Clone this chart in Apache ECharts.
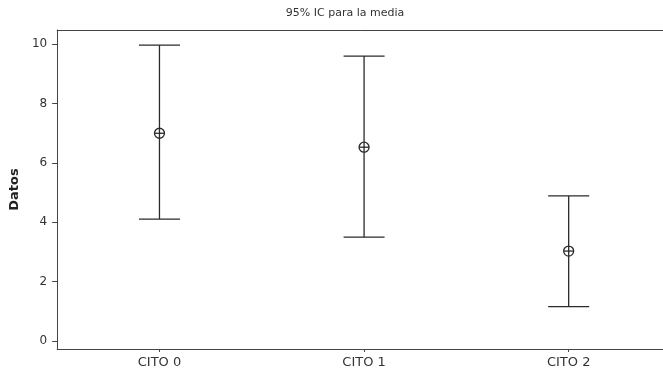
<!DOCTYPE html>
<html>
<head>
<meta charset="utf-8">
<script src="https://cdn.jsdelivr.net/npm/echarts@6/dist/echarts.min.js"></script>
<style>html,body{margin:0;padding:0;background:#fff}#c{width:663px;height:374px}</style>
</head>
<body>
<div id="c"></div>
<script>
var categories = ['CITO 0', 'CITO 1', 'CITO 2'];
var means = [7.0, 6.53, 3.03];
var lower = [4.11, 3.5, 1.16];
var upper = [9.97, 9.6, 4.89];
var yTicks = [0, 2, 4, 6, 8, 10];
var titleText = '95% IC para la media';
var yName = 'Datos';

var chart = echarts.init(document.getElementById('c'));
var catIdx = categories.map(function (c, i) { return i; });
var data = categories.map(function (c, i) { return [i, lower[i], upper[i], means[i]]; });
var ink = '#2a2a2a';
var axisCol = '#444';
chart.setOption({
  animation: false,
  title: {
    text: titleText, left: 340, top: 3, textAlign: 'center',
    textStyle: { fontFamily: 'DejaVu Sans', fontSize: 11, fontWeight: 'normal', color: '#333' }
  },
  grid: { left: 56, top: 30, right: 0, bottom: 25, show: false },
  xAxis: [{
    type: 'value', min: -0.5, max: 2.461, position: 'bottom',
    axisLine: { show: true, onZero: false, lineStyle: { color: axisCol, width: 1 } },
    axisTick: { show: true, length: 3, customValues: catIdx, lineStyle: { color: axisCol } },
    axisLabel: {
      fontFamily: 'DejaVu Sans', fontSize: 13, color: '#333', margin: 7, customValues: catIdx,
      formatter: function (v) { return categories[Math.round(v)]; }
    },
    splitLine: { show: false }
  }, {
    type: 'value', min: -0.5, max: 2.461, position: 'top',
    axisLine: { show: true, onZero: false, lineStyle: { color: axisCol, width: 1 } },
    axisTick: { show: false }, axisLabel: { show: false }, splitLine: { show: false }
  }],
  yAxis: {
    type: 'value', min: -0.27, max: 10.48,
    name: yName, nameLocation: 'middle', nameGap: 36,
    nameTextStyle: { fontFamily: 'DejaVu Sans', fontSize: 13, fontWeight: 'bold', color: '#222' },
    axisLine: { show: true, onZero: false, lineStyle: { color: axisCol, width: 1 } },
    axisTick: { show: true, length: 5, customValues: yTicks, lineStyle: { color: axisCol } },
    axisLabel: { fontFamily: 'DejaVu Sans', fontSize: 12, color: '#333', margin: 10, customValues: yTicks },
    splitLine: { show: false }
  },
  series: [{
    type: 'custom',
    xAxisIndex: 0,
    data: data,
    renderItem: function (params, api) {
      var x = api.value(0);
      var lo = api.coord([x, api.value(1)]);
      var hi = api.coord([x, api.value(2)]);
      var m = api.coord([x, api.value(3)]);
      var hw = 20.5, r = 5;
      var ls = { stroke: ink, lineWidth: 1.3 };
      return {
        type: 'group',
        children: [
          { type: 'line', shape: { x1: hi[0], y1: hi[1], x2: lo[0], y2: lo[1] }, style: ls },
          { type: 'line', shape: { x1: hi[0] - hw, y1: hi[1], x2: hi[0] + hw, y2: hi[1] }, style: ls },
          { type: 'line', shape: { x1: lo[0] - hw, y1: lo[1], x2: lo[0] + hw, y2: lo[1] }, style: ls },
          { type: 'circle', shape: { cx: m[0], cy: m[1], r: r }, style: { fill: '#fff', stroke: ink, lineWidth: 1.3 } },
          { type: 'line', shape: { x1: m[0] - r, y1: m[1], x2: m[0] + r, y2: m[1] }, style: ls },
          { type: 'line', shape: { x1: m[0], y1: m[1] - r, x2: m[0], y2: m[1] + r }, style: ls }
        ]
      };
    }
  }]
});
</script>
</body>
</html>
